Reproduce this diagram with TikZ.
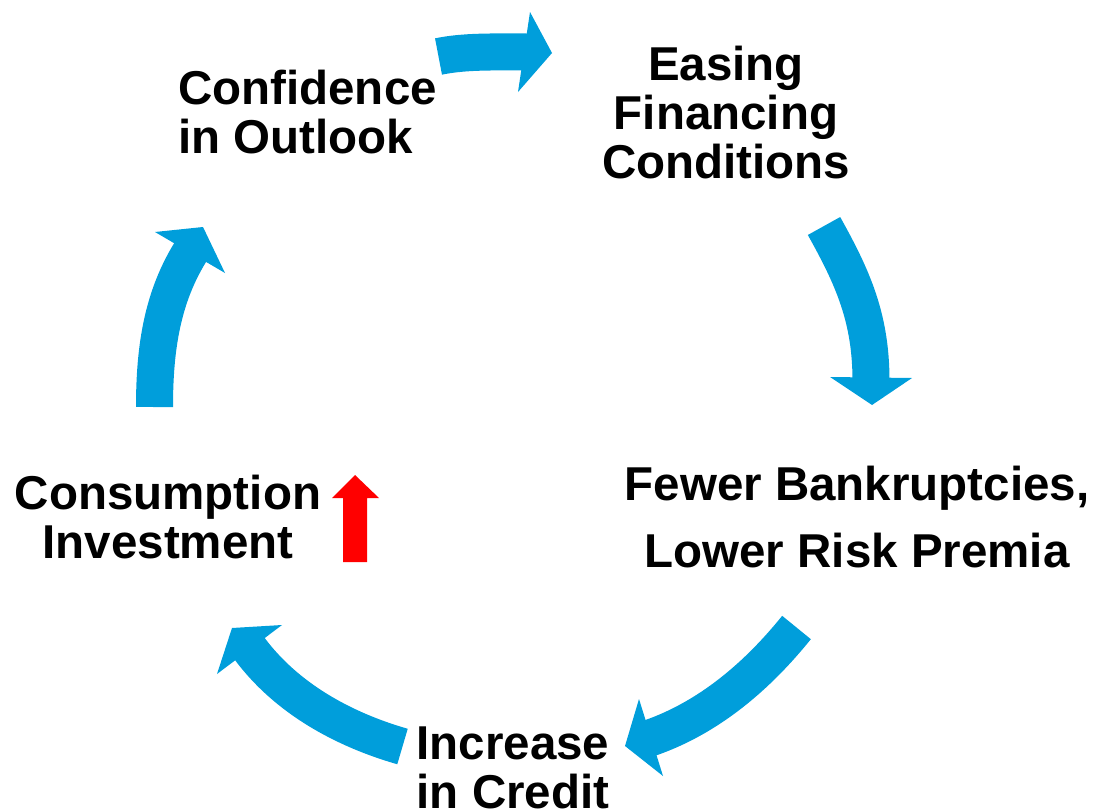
\documentclass[tikz,border=0pt]{standalone}
\usepackage{fontspec}
\setmainfont{Liberation Sans}
\begin{document}
\begin{tikzpicture}[x=1pt,y=-1pt,
  lbl/.style={font=\fontsize{47.5}{49}\selectfont\bfseries, inner sep=0pt, anchor=base, align=center},
  flowbody/.style={draw=flowblue, line width=37pt, line cap=butt},
  flowhead/.style={fill=flowblue, draw=none},
]
\definecolor{flowblue}{RGB}{0,158,219}
\useasboundingbox (0,0) rectangle (1097,811);

% labels (placed by the baseline of their last line)
\node[lbl, align=left, anchor=base west] (conf) at (178,153) {Confidence\\in Outlook};
\node[lbl] (ease) at (726,178) {Easing\\Financing\\Conditions};
\node[lbl, font=\fontsize{47.5}{67}\selectfont\bfseries] (fewer) at (857,567) {Fewer Bankruptcies,\\Lower Risk Premia};
\node[lbl] (cred) at (513,808) {Increase\\in Credit};
\node[lbl] (cons) at (168,558) {Consumption\\Investment};

% arrow 1: confidence -> financing
\coordinate (a1s) at (438.5,56.5);
\coordinate (a1e) at (527,52);
\draw[flowbody] (a1s) .. controls (465,51) and (495,52) .. (a1e);
\fill[flowhead] (530,12) -- (552,53) -- (518,92) -- cycle;

% arrow 2: financing -> bankruptcies
\coordinate (a2s) at (824,226);
\coordinate (a2e) at (871,381);
\draw[flowbody] (a2s) .. controls (853,278) and (871,318) .. (a2e);
\fill[flowhead] (830,377) -- (872,405) -- (912,378) -- cycle;

% arrow 3: bankruptcies -> credit
\coordinate (a3s) at (796.5,627.5);
\coordinate (a3e) at (647,739);
\draw[flowbody] (a3s) .. controls (759,674) and (710,718) .. (a3e);
\fill[flowhead] (639,699) -- (625,746) -- (663,776) -- cycle;

% arrow 4: credit -> consumption
\coordinate (a4s) at (402.5,746.5);
\coordinate (a4e) at (248,646.5);
\draw[flowbody] (a4s) .. controls (345,730) and (286,699) .. (a4e);
\fill[flowhead] (282,625) -- (232,628) -- (217,674) -- cycle;

% arrow 5: consumption -> confidence
\coordinate (a5s) at (154.5,407);
\coordinate (a5e) at (192,249.5);
\draw[flowbody] (a5s) .. controls (154.5,347) and (162.5,296) .. (a5e);
\fill[flowhead] (155,232) -- (203,227) -- (225,273) -- cycle;

% red up arrow beside consumption/investment
\fill[red] (343,562) -- (343,498) -- (332,498) -- (355,475) -- (379,498) -- (367,498) -- (367,562) -- cycle;
\end{tikzpicture}
\end{document}
